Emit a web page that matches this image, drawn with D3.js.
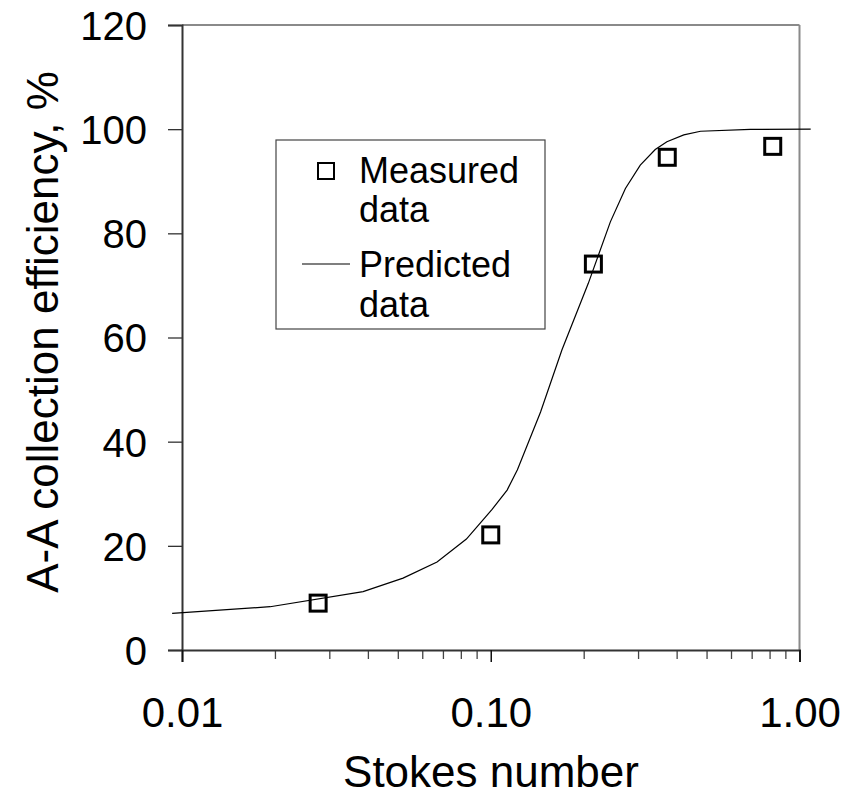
<!DOCTYPE html>
<html>
<head>
<meta charset="utf-8">
<script src="https://cdn.jsdelivr.net/npm/d3@7"></script>
<style>
  html, body { margin: 0; padding: 0; background: #fff; }
  svg { display: block; font-family: Arial, "Liberation Sans", sans-serif; }
</style>
</head>
<body>
<svg id="chart" width="848" height="799"></svg>
<script>
// Measured collection efficiency vs Stokes number
const measuredStokes = [0.0276, 0.100, 0.215, 0.373, 0.819];
const measuredEff    = [9.0, 22.1, 74.1, 94.6, 96.7];

// Predicted efficiency curve
const predictedStokes = [0.00929, 0.0193, 0.0386, 0.0520, 0.0670, 0.0834, 0.101, 0.113, 0.122,
                         0.145, 0.170, 0.207, 0.244, 0.273, 0.305, 0.341, 0.372, 0.422, 0.478, 0.693, 1.087];
const predictedEff    = [7.05, 8.31, 11.2, 13.8, 16.9, 21.3, 27.0, 30.7, 34.6,
                         45.7, 57.6, 70.4, 82.2, 88.6, 93.1, 96.1, 97.6, 98.9, 99.6, 99.97, 100];

const xTickValues = [0.01, 0.1, 1];
const xTickLabels = ["0.01", "0.10", "1.00"];
const yTickValues = [0, 20, 40, 60, 80, 100, 120];

const xTitle = "Stokes number";
const yTitle = "A-A collection efficiency, %";
const legendLabels = [["Measured", "data"], ["Predicted", "data"]];

const FONT = "Arial, 'Liberation Sans', sans-serif";
const svg = d3.select("#chart");
const plotLeft = 182, plotRight = 799.5, plotTop = 25, plotBottom = 650;

const x = d3.scaleLog().domain([0.01, 1]).range([plotLeft, plotRight]);
const y = d3.scaleLinear().domain([0, 120]).range([plotBottom, plotTop]);

// Frame: top and right in grey
svg.append("line").attr("x1", plotLeft).attr("x2", plotRight).attr("y1", plotTop).attr("y2", plotTop)
  .attr("stroke", "#8a8a8a").attr("stroke-width", 2);
svg.append("line").attr("x1", plotRight).attr("x2", plotRight).attr("y1", plotTop).attr("y2", plotBottom)
  .attr("stroke", "#8a8a8a").attr("stroke-width", 2);

// Y axis
const yAxis = d3.axisLeft(y).tickValues(yTickValues).tickSize(14).tickPadding(21)
  .tickFormat(d3.format("d"));
const gy = svg.append("g").attr("transform", `translate(${plotLeft},0)`).call(yAxis);
gy.attr("font-size", null).attr("font-family", null);
gy.select(".domain").attr("stroke", "#333").attr("stroke-width", 2);
gy.selectAll(".tick line").attr("stroke", "#333").attr("stroke-width", 1.3);
gy.selectAll(".tick text").attr("font-size", 40).attr("fill", "#000")
  .attr("font-family", FONT).attr("dy", "0.36em");

// X axis: minor ticks
const minorTicks = [];
[0.01, 0.1].forEach(dec => { for (let k = 2; k <= 9; k++) minorTicks.push(dec * k); });
const xMinor = d3.axisBottom(x).tickValues(minorTicks).tickSize(9).tickFormat("");
const gxm = svg.append("g").attr("transform", `translate(0,${plotBottom})`).call(xMinor);
gxm.select(".domain").remove();
gxm.selectAll(".tick line").attr("stroke", "#444").attr("stroke-width", 1.3);

// X axis: major ticks and labels
const xAxis = d3.axisBottom(x).tickValues(xTickValues).tickSize(12)
  .tickFormat((d, i) => xTickLabels[i]);
const gx = svg.append("g").attr("transform", `translate(0,${plotBottom})`).call(xAxis);
gx.attr("font-size", null).attr("font-family", null);
gx.select(".domain").attr("stroke", "#333").attr("stroke-width", 2);
gx.selectAll(".tick line").attr("stroke", "#111").attr("stroke-width", 1.5);
gx.selectAll(".tick text").attr("font-size", 42).attr("fill", "#000")
  .attr("font-family", FONT).attr("y", 77).attr("dy", 0);

// Axis titles
svg.append("text").attr("x", 491).attr("y", 787).attr("text-anchor", "middle")
  .attr("font-size", 44).attr("font-family", FONT).text(xTitle);
svg.append("text").attr("transform", `translate(58,${332}) rotate(-90)`)
  .attr("text-anchor", "middle").attr("font-size", 44).attr("font-family", FONT).text(yTitle);

// Predicted curve
const predicted = predictedStokes.map((s, i) => [s, predictedEff[i]]);
svg.append("path").datum(predicted)
  .attr("fill", "none").attr("stroke", "#000").attr("stroke-width", 1.2)
  .attr("d", d3.line().x(d => x(d[0])).y(d => y(d[1])).curve(d3.curveLinear));

// Measured points
const measured = measuredStokes.map((s, i) => [s, measuredEff[i]]);
svg.append("g").selectAll("rect").data(measured).join("rect")
  .attr("x", d => x(d[0]) - 8).attr("y", d => y(d[1]) - 8)
  .attr("width", 16).attr("height", 16)
  .attr("fill", "none").attr("stroke", "#000").attr("stroke-width", 3);

// Legend
const lg = svg.append("g");
lg.append("rect").attr("x", 276).attr("y", 140).attr("width", 269).attr("height", 189)
  .attr("fill", "#fff").attr("stroke", "#444").attr("stroke-width", 1.2);
lg.append("rect").attr("x", 318).attr("y", 163).attr("width", 16).attr("height", 16)
  .attr("fill", "none").attr("stroke", "#000").attr("stroke-width", 2);
lg.append("line").attr("x1", 302).attr("x2", 350).attr("y1", 264).attr("y2", 264)
  .attr("stroke", "#000").attr("stroke-width", 1.2);
const baselines = [[183, 222], [277, 317]];
legendLabels.forEach((lines, i) => {
  lines.forEach((t, j) => {
    lg.append("text").attr("x", 359).attr("y", baselines[i][j])
      .attr("font-size", 36).attr("font-family", FONT).text(t);
  });
});
</script>
</body>
</html>
